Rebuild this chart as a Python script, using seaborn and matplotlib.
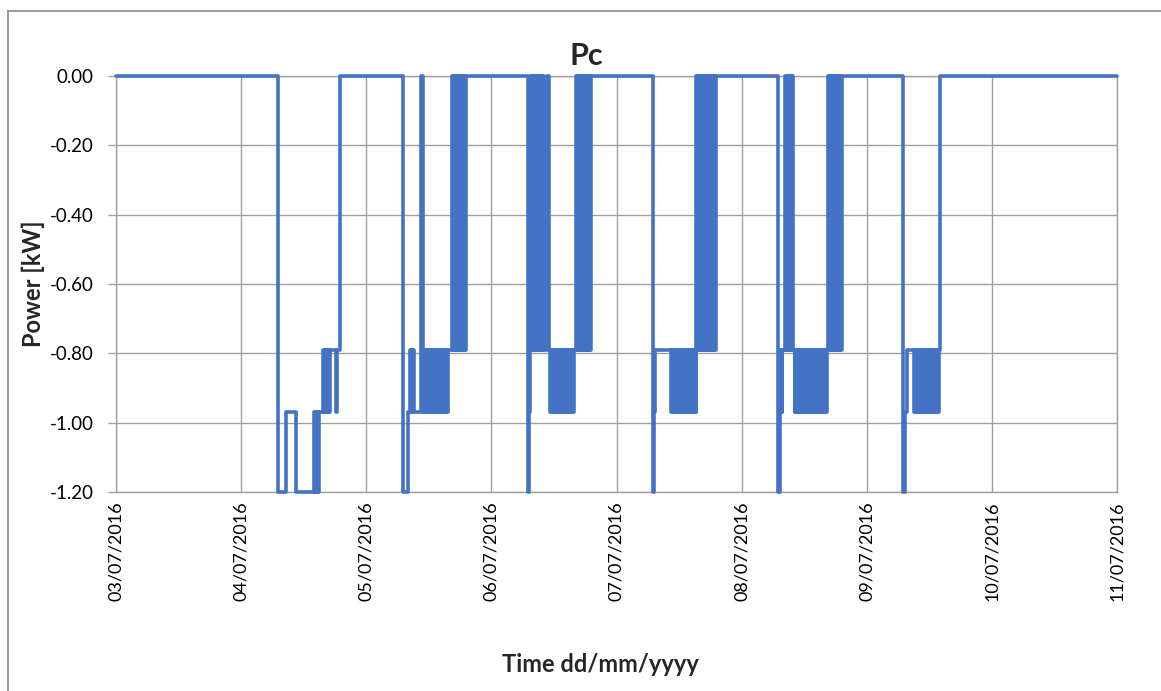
import matplotlib
matplotlib.use("Agg")
import matplotlib.pyplot as plt
from matplotlib.lines import Line2D
import seaborn as sns
import pandas as pd

# ---------------- data ----------------
# level codes used in the run patterns -> power in kW
level_values = [0.00, -0.79, -0.97, -1.20]

# each run starts at the given time; every character of its pattern is one
# 10-minute sample (code into level_values); the last sample holds until the next run
run_starts = [
    "2016-07-03 00:00",
    "2016-07-04 07:00", "2016-07-04 08:40", "2016-07-04 10:30", "2016-07-04 13:50",
    "2016-07-04 15:40", "2016-07-04 18:10", "2016-07-04 19:00",
    "2016-07-05 07:00", "2016-07-05 08:00", "2016-07-05 08:20", "2016-07-05 10:30",
    "2016-07-05 10:50", "2016-07-05 16:30",
    "2016-07-06 07:00", "2016-07-06 07:30", "2016-07-06 10:40", "2016-07-06 11:20",
    "2016-07-06 16:10",
    "2016-07-07 07:00", "2016-07-07 10:30", "2016-07-07 15:20",
    "2016-07-08 07:00", "2016-07-08 07:20", "2016-07-08 07:40", "2016-07-08 08:20",
    "2016-07-08 10:10", "2016-07-08 15:50", "2016-07-08 16:30",
    "2016-07-09 07:00", "2016-07-09 07:20", "2016-07-09 07:40", "2016-07-09 09:00",
    "2016-07-09 14:00",
]
run_patterns = [
    "0",
    "3", "2", "3", "32323232",
    "121212121", "21", "0",
    "3", "2", "121212", "00",
    "212121212121212121212121212121", "01010101010101010",
    "321", "0101010101010101", "001", "2121212121212121212121212121",
    "0101010101010101010",
    "321", "21212121212121212121212121212", "01010101010101010101010",
    "3", "1", "21", "0101010101",
    "2121212121212121212121212121212121", "2121", "01010101010101010",
    "3", "2", "1", "212121212121212121212121212121",
    "0",
]
series_end = "2016-07-11 00:00"

x_tick_dates = ["2016-07-03", "2016-07-04", "2016-07-05", "2016-07-06", "2016-07-07",
                "2016-07-08", "2016-07-09", "2016-07-10", "2016-07-11"]
x_tick_labels = ["03/07/2016", "04/07/2016", "05/07/2016", "06/07/2016", "07/07/2016",
                 "08/07/2016", "09/07/2016", "10/07/2016", "11/07/2016"]
y_ticks = [0.00, -0.20, -0.40, -0.60, -0.80, -1.00, -1.20]
y_tick_labels = ["0.00", "-0.20", "-0.40", "-0.60", "-0.80", "-1.00", "-1.20"]

# ---------------- build table ----------------
times, values = [], []
for start, pattern in zip(run_starts, run_patterns):
    t0 = pd.Timestamp(start)
    for k, code in enumerate(pattern):
        times.append(t0 + pd.Timedelta(minutes=10 * k))
        values.append(level_values[int(code)])
times.append(pd.Timestamp(series_end))
values.append(values[-1])
df = pd.DataFrame({"time": times, "power": values})

# ---------------- plot ----------------
sns.set_theme(style="white")
plt.rcParams["font.family"] = ["Lato", "DejaVu Sans"]

W, H = 1161, 691
fig = plt.figure(figsize=(W / 100, H / 100), dpi=100)
fig.patch.set_facecolor("white")
left, right, top, bottom = 116, 1117, 76, 492
ax = fig.add_axes([left / W, 1 - bottom / H, (right - left) / W, (bottom - top) / H])

sns.lineplot(data=df, x="time", y="power", ax=ax, color="#4472C4", linewidth=2.6,
             drawstyle="steps-post", estimator=None, sort=False, clip_on=False,
             zorder=3)

grid_c = "#a0a0a0"
ax.set_xlim(pd.Timestamp(x_tick_dates[0]), pd.Timestamp(x_tick_dates[-1]))
ax.set_ylim(-1.2, 0.0)
ax.set_xticks([pd.Timestamp(d) for d in x_tick_dates])
ax.set_xticklabels(x_tick_labels, rotation=90, fontsize=13, color="black")
ax.set_yticks(y_ticks)
ax.set_yticklabels(y_tick_labels, fontsize=13.5, color="black")
ax.grid(True, color=grid_c, linewidth=1.0)
ax.set_axisbelow(True)
for s in ax.spines.values():
    s.set_color(grid_c)
    s.set_linewidth(1.0)
ax.tick_params(axis="y", length=6, width=1, color=grid_c, pad=10, left=True)
ax.tick_params(axis="x", length=0, pad=7)
ax.set_xlabel("")
ax.set_ylabel("")

fig.text(586 / W, 1 - 56 / H, "Pc", ha="center", va="center", fontsize=22, fontweight="bold")
fig.text(600 / W, 1 - 664 / H, "Time dd/mm/yyyy", ha="center", va="center",
         fontsize=17, fontweight="bold")
fig.text(33 / W, 1 - 284 / H, "Power [kW]", ha="center", va="center", rotation=90,
         fontsize=17, fontweight="bold")

# chart-area frame (only left and top edges fall inside the picture)
fig.add_artist(Line2D([7.5 / W, 7.5 / W], [0, 1 - 10.5 / H], color="#888888", lw=1.2))
fig.add_artist(Line2D([7.5 / W, 1], [1 - 10.5 / H, 1 - 10.5 / H], color="#888888", lw=1.2))

fig.savefig("out.png", dpi=100, facecolor="white")
